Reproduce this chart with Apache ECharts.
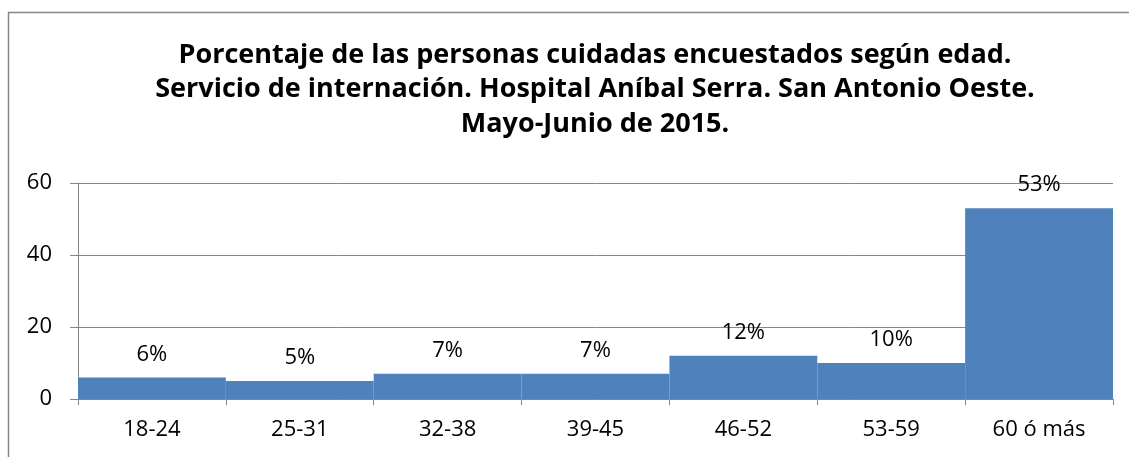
<!DOCTYPE html>
<html>
<head>
<meta charset="utf-8">
<script src="https://cdn.jsdelivr.net/npm/echarts@6/dist/echarts.min.js"></script>
<style>
html,body{margin:0;padding:0;background:#fff;}
#c{width:1129px;height:457px;}
</style>
</head>
<body>
<div id="c"></div>
<script>
const categories = ['18-24','25-31','32-38','39-45','46-52','53-59','60 ó más'];
const values = [6,5,7,7,12,10,53];
const yTicks = [0,20,40,60];
const titleLines = [
  'Porcentaje de las personas cuidadas encuestados según edad.',
  'Servicio de internación. Hospital Aníbal Serra. San Antonio Oeste.',
  'Mayo-Junio de 2015.'
];
const topText = 'Gráfico 2';

const FONT = '"Open Sans", sans-serif';
const chart = echarts.init(document.getElementById('c'), null, {renderer:'canvas'});
chart.setOption({
  backgroundColor:'#ffffff',
  animation:false,
  title:{
    text: titleLines.join('\n'),
    left: 590, top: 33, textAlign:'center',
    textStyle:{fontFamily:FONT, fontWeight:'bold', fontSize:27, lineHeight:34.5, color:'#000'}
  },
  graphic:[
    {type:'rect', shape:{x:8.5,y:12.5,width:1200,height:600}, style:{fill:null, stroke:'#868686', lineWidth:1.5}, silent:true},
    {type:'text', left:17, top:-19, style:{text:topText, font:'bold 20px '+FONT, fill:'#595959'}}
  ],
  grid:{left:78, right:16, top:183, bottom:58, containLabel:false},
  xAxis:{
    type:'category', data:categories,
    axisLine:{lineStyle:{color:'#868686', width:1}},
    axisTick:{show:true, alignWithLabel:false, length:6, lineStyle:{color:'#868686'}},
    axisLabel:{color:'#000', fontFamily:FONT, fontSize:22, margin:20}
  },
  yAxis:{
    type:'value', min:yTicks[0], max:yTicks[yTicks.length-1], interval:20,
    axisLine:{show:true, lineStyle:{color:'#868686'}},
    axisTick:{show:true, length:8, lineStyle:{color:'#868686'}},
    splitLine:{lineStyle:{color:'#868686', width:1}},
    axisLabel:{color:'#000', fontFamily:FONT, fontSize:22, margin:26}
  },
  series:[{
    type:'bar', data:values, barCategoryGap:'0%',
    itemStyle:{color:'#4F81BD'},
    label:{show:true, position:'top', distance:12, formatter:p=>p.value+'%', color:'#000', fontFamily:FONT, fontSize:22}
  }]
});
</script>
</body>
</html>
